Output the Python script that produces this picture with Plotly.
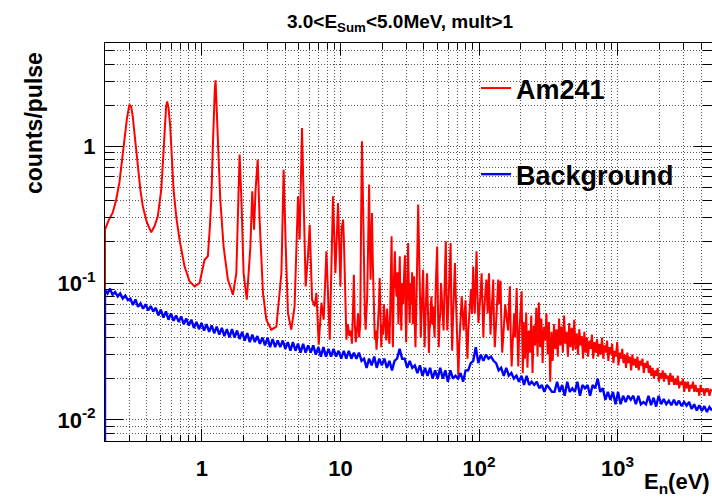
import numpy as np
import plotly.graph_objects as go

# Am241, resolved-resonance region: energy (eV) and counts/pulse
am_energy = [
    0.2, 0.2, 0.213, 0.227, 0.24, 0.254, 0.265, 0.276, 0.288, 0.30, 0.309, 0.317, 0.33, 0.345,
    0.36, 0.375, 0.40, 0.431, 0.455, 0.481, 0.509, 0.525, 0.538, 0.552, 0.562,
    0.575, 0.591, 0.61, 0.625, 0.655, 0.69, 0.75, 0.815, 0.886, 0.962, 1.046,
    1.105, 1.14, 1.17, 1.20, 1.215, 1.24, 1.256, 1.27, 1.305, 1.358, 1.435,
    1.54, 1.675, 1.773, 1.83, 1.872, 1.90, 1.93, 2.0, 2.11, 2.24, 2.31, 2.38,
    2.44, 2.53, 2.61, 2.76, 2.92, 3.17, 3.45, 3.75, 3.89, 4.03, 4.18, 4.42,
    4.67, 4.94, 5.08, 5.28, 5.46, 5.61, 5.83, 6.0, 6.24, 6.52, 6.71, 6.97,
    7.29, 7.57, 7.92, 8.37, 8.84, 9.2, 9.61,
    10.0, 10.2, 10.45, 10.6, 10.7, 10.85, 11.05, 11.3, 11.6, 11.85, 12.1, 12.3,
    12.5, 12.7, 12.9, 13.15, 13.4, 13.65, 13.9, 14.1, 14.3, 14.5, 14.8, 15.0,
    15.2, 15.4, 15.6, 15.85, 16.1, 16.3, 16.5, 16.7, 16.9, 17.1, 17.3, 17.5,
    17.7, 17.95, 18.2, 18.45, 18.7, 18.95, 19.2, 19.45, 19.7, 20.0, 20.3, 20.6,
    20.9, 21.15, 21.4, 21.7, 22.0, 22.3, 22.6, 23.0, 23.4, 23.65, 23.9, 24.3,
    24.7, 25.0, 25.4, 25.8, 26.2, 26.5, 26.8, 27.1, 27.5, 27.9, 28.3, 28.75,
    29.2, 29.5, 29.8, 30.3, 30.8, 31.2, 31.6, 32.0, 32.5, 32.9, 33.3, 33.65,
    34.0, 34.4, 34.8, 35.2, 35.6, 36.0, 36.4, 36.8, 37.2, 37.6, 38.0, 38.7,
    39.5, 40.0, 40.5, 40.9, 41.3, 41.7, 42.2, 42.8, 43.5, 43.9, 44.4, 44.9,
    45.4, 46.0, 46.6, 47.2, 47.8, 48.8, 49.9, 50.5, 51.2, 51.8, 52.5, 53.2,
    54.0, 54.7, 55.5, 56.5, 57.6, 58.3, 59.0, 59.8, 60.6, 61.5, 62.4, 63.2,
    64.0, 64.7, 65.5, 66.2, 67.0, 68.0, 69.0, 70.0, 71.0, 72.0, 73.0, 74.0,
    75.0, 76.2, 77.5, 78.7, 80.0, 81.2, 82.5, 83.7, 85.0, 86.2, 87.5, 89.1,
    90.8, 92.0, 93.3, 94.6, 96.0, 97.5, 99.0, 100.2, 101.5, 103.0, 104.4, 106.0,
    107.5, 108.7, 110.0, 111.5, 113.0, 114.2, 115.5, 116.7, 118.0, 119.5, 121.0, 122.5,
    124.0, 125.3, 126.7, 128.3, 130.0, 132.0, 134.0, 135.8, 137.6, 138.8, 140.0, 141.5,
    143.0, 145.0, 147.0, 149.5, 152.0, 154.5, 157.0, 159.5, 162.0, 164.5, 167.0, 169.5,
    172.0, 174.5, 177.0, 179.5, 182.0, 184.5, 187.0, 189.5, 192.0, 194.5, 197.0, 200.0,
    203.0, 205.0, 207.0,
]
am_counts = [
    0.001, 0.246, 0.29, 0.326, 0.40, 0.54, 0.78, 1.12, 1.6, 2.02, 1.95, 1.66, 1.1, 0.71,
    0.48, 0.364, 0.28, 0.235, 0.26, 0.308, 0.48, 0.8, 1.40, 1.95, 2.13,
    1.9, 1.40, 0.8, 0.48, 0.30, 0.208, 0.132, 0.103, 0.0946, 0.10, 0.148,
    0.157, 0.25, 0.408, 1.0, 1.66, 2.6, 3.04, 2.4, 1.12, 0.408, 0.185,
    0.106, 0.0822, 0.118, 0.4, 0.87, 0.6, 0.408, 0.118, 0.0756, 0.185, 0.469, 0.246,
    0.48, 0.80, 0.291, 0.0847, 0.054, 0.0456, 0.048, 0.118, 0.675, 0.185, 0.0604, 0.0456,
    0.0676, 0.431, 0.208, 1.36, 0.364, 0.0946, 0.157, 0.267, 0.0756, 0.0676, 0.0847, 0.0354,
    0.0716, 0.054, 0.171, 0.0385, 0.431, 0.118, 0.385,
    0.0946, 0.25, 0.291, 0.2, 0.12, 0.06, 0.0385, 0.05, 0.041, 0.045, 0.036, 0.06,
    0.115, 0.05, 0.037, 0.045, 0.06, 0.04, 0.05, 0.3, 1.09, 0.5, 0.12, 0.06,
    0.0456, 0.065, 0.08, 0.2, 0.525, 0.2, 0.106, 0.2, 0.326, 0.15, 0.09, 0.05,
    0.0385, 0.045, 0.0326, 0.04, 0.05, 0.07, 0.109, 0.05, 0.034, 0.05, 0.042, 0.07,
    0.055, 0.04, 0.038, 0.065, 0.048, 0.04, 0.036, 0.09, 0.22, 0.06, 0.034, 0.1,
    0.171, 0.1, 0.08, 0.12, 0.05, 0.09, 0.157, 0.07, 0.045, 0.1, 0.07, 0.11,
    0.16, 0.06, 0.037, 0.09, 0.196, 0.08, 0.051, 0.1, 0.07, 0.12, 0.05, 0.08,
    0.112, 0.05, 0.034, 0.06, 0.09, 0.2, 0.375, 0.2, 0.141, 0.07, 0.04, 0.07,
    0.125, 0.06, 0.034, 0.05, 0.06, 0.09, 0.118, 0.05, 0.0308, 0.045, 0.05, 0.07,
    0.08, 0.05, 0.0676, 0.05, 0.04, 0.1, 0.185, 0.07, 0.034, 0.05, 0.06, 0.1,
    0.08, 0.06, 0.045, 0.1, 0.202, 0.08, 0.045, 0.06, 0.08, 0.12, 0.196, 0.06,
    0.032, 0.05, 0.07, 0.1, 0.14, 0.08, 0.052, 0.035, 0.0208, 0.035, 0.05, 0.065,
    0.08, 0.06, 0.045, 0.06, 0.075, 0.04, 0.028, 0.045, 0.06, 0.07, 0.09, 0.06,
    0.132, 0.08, 0.06, 0.1, 0.171, 0.08, 0.051, 0.06, 0.07, 0.09, 0.118, 0.06,
    0.04, 0.06, 0.08, 0.09, 0.106, 0.08, 0.06, 0.09, 0.118, 0.07, 0.042, 0.055,
    0.07, 0.09, 0.106, 0.05, 0.034, 0.045, 0.06, 0.08, 0.106, 0.09, 0.07, 0.085,
    0.104, 0.05, 0.031, 0.04, 0.05, 0.07, 0.06, 0.05, 0.045, 0.07, 0.0946, 0.04,
    0.0246, 0.035, 0.05, 0.06, 0.04, 0.06, 0.092, 0.04, 0.0246, 0.04, 0.05, 0.065,
    0.087, 0.04, 0.0219,
]

# Am241 unresolved region: log-spaced bins from 210 eV to 4.8 keV
am_tail_counts = [
    0.052, 0.028, 0.061, 0.024, 0.045, 0.031, 0.058, 0.022, 0.049, 0.035,
    0.066, 0.029, 0.072, 0.034, 0.055, 0.026, 0.048, 0.038, 0.060, 0.030,
    0.052, 0.019, 0.044, 0.027, 0.050, 0.033, 0.046, 0.029, 0.055, 0.035,
    0.048, 0.031, 0.058, 0.036, 0.044, 0.029, 0.051, 0.034, 0.047, 0.032,
    0.054, 0.033, 0.043, 0.030, 0.046, 0.035, 0.041, 0.028, 0.044, 0.031,
    0.040, 0.029, 0.038, 0.033, 0.042, 0.028, 0.037, 0.031, 0.039, 0.029,
    0.036, 0.030, 0.040, 0.028, 0.035, 0.031, 0.038, 0.027, 0.034, 0.030,
    0.036, 0.026, 0.032, 0.029, 0.037, 0.025, 0.031, 0.028, 0.033, 0.026,
    0.030, 0.024, 0.031, 0.026, 0.029, 0.023, 0.030, 0.025, 0.028, 0.024,
    0.029, 0.023, 0.027, 0.025, 0.028, 0.022, 0.026, 0.024, 0.027, 0.022,
    0.025, 0.021, 0.024, 0.020, 0.023, 0.021, 0.024, 0.019, 0.022, 0.020,
    0.023, 0.019, 0.022, 0.020, 0.021, 0.018, 0.022, 0.019, 0.021, 0.018,
    0.020, 0.018, 0.021, 0.017, 0.019, 0.018, 0.020, 0.016, 0.019, 0.017,
    0.019, 0.016, 0.018, 0.017, 0.019, 0.016, 0.018, 0.016, 0.017, 0.015,
    0.018, 0.016, 0.017, 0.015, 0.017, 0.016, 0.017, 0.015, 0.0165, 0.0163,
]

# Background: log-spaced bins from 0.2 eV to 4.8 keV
bg_edge = [0.001, 0.062]
bg_counts = [
    0.089, 0.084, 0.091, 0.082, 0.086, 0.080, 0.084, 0.077, 0.081, 0.075,
    0.077, 0.069, 0.076, 0.067, 0.071, 0.065, 0.070, 0.063, 0.068, 0.062,
    0.066, 0.058, 0.064, 0.056, 0.062, 0.054, 0.060, 0.053, 0.058, 0.052,
    0.057, 0.050, 0.055, 0.049, 0.054, 0.047, 0.052, 0.046, 0.051, 0.045,
    0.050, 0.044, 0.049, 0.043, 0.048, 0.042, 0.047, 0.041, 0.046, 0.040,
    0.046, 0.040, 0.045, 0.039, 0.044, 0.038, 0.043, 0.037, 0.042, 0.037,
    0.041, 0.036, 0.040, 0.035, 0.040, 0.034, 0.039, 0.034, 0.038, 0.034,
    0.038, 0.033, 0.037, 0.032, 0.037, 0.032, 0.036, 0.031, 0.036, 0.031,
    0.035, 0.031, 0.035, 0.030, 0.034, 0.029, 0.034, 0.029, 0.033, 0.029,
    0.033, 0.029, 0.032, 0.028, 0.032, 0.028, 0.032, 0.028, 0.031, 0.028,
    0.031, 0.027, 0.028, 0.024, 0.028, 0.025, 0.029, 0.024, 0.028, 0.025,
    0.028, 0.024, 0.027, 0.023, 0.027, 0.028, 0.033, 0.028, 0.028, 0.024,
    0.027, 0.024, 0.025, 0.022, 0.025, 0.021, 0.024, 0.021, 0.024, 0.020,
    0.023, 0.020, 0.024, 0.020, 0.023, 0.019, 0.023, 0.020, 0.021, 0.020,
    0.022, 0.019, 0.023, 0.023, 0.026, 0.027, 0.034, 0.026, 0.030, 0.027,
    0.030, 0.028, 0.029, 0.027, 0.026, 0.023, 0.024, 0.021, 0.024, 0.021,
    0.022, 0.020, 0.021, 0.019, 0.021, 0.018, 0.021, 0.018, 0.019, 0.018,
    0.019, 0.017, 0.018, 0.016, 0.018, 0.017, 0.016, 0.016, 0.019, 0.016,
    0.018, 0.015, 0.019, 0.016, 0.017, 0.016, 0.019, 0.015, 0.018, 0.017,
    0.018, 0.015, 0.018, 0.017, 0.020, 0.016, 0.017, 0.014, 0.016, 0.014,
    0.016, 0.013, 0.016, 0.013, 0.015, 0.0135, 0.015, 0.014, 0.015, 0.013,
    0.015, 0.013, 0.0135, 0.013, 0.015, 0.0128, 0.0145, 0.0125, 0.015, 0.013,
    0.0142, 0.013, 0.0138, 0.0128, 0.014, 0.0128, 0.0138, 0.0126, 0.0135, 0.0127,
    0.0135, 0.012, 0.013, 0.0117, 0.0128, 0.0116, 0.0126, 0.0114, 0.0124, 0.0117,
]

E_MIN, E_MAX = 0.2, 4800.0
Y_MIN, Y_MAX = 0.007, 5.7

x_major = [1, 10, 100, 1000]
x_major_text = ["1", "10", "10<sup>2</sup>", "10<sup>3</sup>"]
y_major = [0.01, 0.1, 1]
y_major_text = ["10<sup>-2</sup>", "10<sup>-1</sup>", "1"]

tail_energy = np.geomspace(210.0, E_MAX, len(am_tail_counts))
red_x = np.concatenate([am_energy, tail_energy])
red_y = np.concatenate([am_counts, am_tail_counts])

bg_bins = np.geomspace(E_MIN, E_MAX, len(bg_counts))
blue_x = np.concatenate([[E_MIN, E_MIN], bg_bins])
blue_y = np.concatenate([bg_edge, bg_counts])

FONT = "Liberation Sans"
GRID = "#555555"
DOTS = "1px,2px"


def minor_vals(lo, hi):
    out = []
    for dec in (0.001, 0.01, 0.1, 1, 10, 100, 1000):
        for k in range(2, 10):
            v = k * dec
            if lo < v < hi:
                out.append(v)
    return out


fig = go.Figure()
fig.add_trace(go.Scatter(
    x=red_x, y=red_y, mode="lines", name="Am241", legendgroup="am",
    line=dict(color="#ff0000", width=2),
))
fig.add_trace(go.Scatter(
    x=blue_x, y=blue_y, mode="lines", name="Background", legendgroup="bg",
    line=dict(color="#0000ff", width=2.4),
))

axis_common = dict(
    type="log", ticks="inside", tickcolor="black", tickwidth=1,
    showline=True, linecolor="black", linewidth=1, mirror="ticks",
    showgrid=True, gridcolor=GRID, griddash=DOTS, gridwidth=1,
    zeroline=False,
    tickfont=dict(family=FONT, size=22, color="black", weight="bold"),
)

fig.update_layout(
    width=712, height=497,
    margin=dict(l=105, r=0, t=43, b=56),
    paper_bgcolor="white", plot_bgcolor="white",
    font=dict(family=FONT, color="black"),
    title=dict(
        text="3.0&lt;E<sub>Sum</sub>&lt;5.0MeV, mult&gt;1",
        x=400 / 712, xanchor="center", xref="container",
        y=1 - 21 / 497, yanchor="middle", yref="container",
        font=dict(family=FONT, size=19, color="black", weight="bold"),
    ),
    xaxis=dict(
        **axis_common,
        range=[np.log10(E_MIN), np.log10(E_MAX)],
        tickmode="array", tickvals=x_major, ticktext=x_major_text,
        ticklen=12, ticklabelstandoff=8,
        minor=dict(tickmode="array", tickvals=minor_vals(E_MIN, E_MAX),
                   ticks="inside", ticklen=6, tickcolor="black",
                   showgrid=True, gridcolor=GRID, griddash=DOTS, gridwidth=1),
    ),
    yaxis=dict(
        **axis_common,
        range=[np.log10(Y_MIN), np.log10(Y_MAX)],
        tickmode="array", tickvals=y_major, ticktext=y_major_text,
        ticklen=18, ticklabelstandoff=4,
        minor=dict(tickmode="array", tickvals=minor_vals(Y_MIN, Y_MAX),
                   ticks="inside", ticklen=9, tickcolor="black",
                   showgrid=True, gridcolor=GRID, griddash=DOTS, gridwidth=1),
    ),
    legend=dict(
        x=(476 - 105) / 607, xanchor="left",
        y=(441 - 64) / 398, yanchor="top",
        bgcolor="rgba(0,0,0,0)", borderwidth=0,
        font=dict(family=FONT, size=27, color="black", weight="bold"),
        tracegroupgap=48,
    ),
    annotations=[
        dict(text="counts/pulse", textangle=-90, showarrow=False,
             xref="paper", yref="paper",
             x=(34 - 105) / 607, xanchor="center",
             y=(441 - 50) / 398, yanchor="top",
             font=dict(family=FONT, size=23, color="black", weight="bold")),
        dict(text="E<sub>n</sub>(eV)", showarrow=False,
             xref="paper", yref="paper",
             x=1.0, xanchor="right",
             y=(441 - 483) / 398, yanchor="middle",
             font=dict(family=FONT, size=22, color="black", weight="bold")),
    ],
)

fig.write_html("out.html")
